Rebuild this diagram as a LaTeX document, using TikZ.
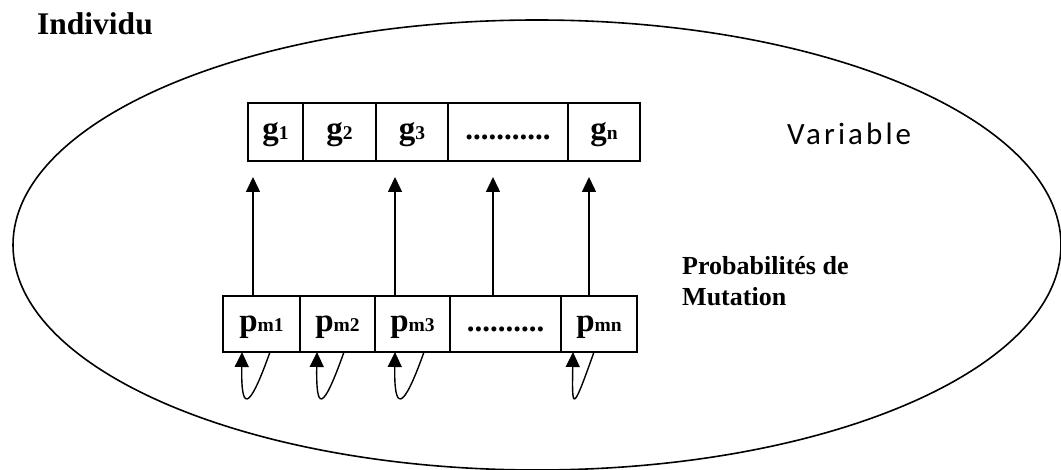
\documentclass[tikz,border=0pt]{standalone}
\usepackage{fontspec}
\setmainfont{Liberation Serif}
\newfontfamily\varfont{Carlito}[LetterSpace=10]
\usetikzlibrary{arrows.meta}
\newcommand\sbx[1]{{\fontsize{19.5}{22}\selectfont #1}}
\begin{document}
\begin{tikzpicture}[x=1pt,y=-1pt,
  cell/.style={draw, line width=1.6pt, inner sep=0pt, outer sep=0pt},
  gcell/.style={cell, minimum height=58pt},
  pcell/.style={cell, minimum height=56pt},
  lab/.style={anchor=base, inner sep=0pt, font=\bfseries\fontsize{33}{36}\selectfont},
  dotlab/.style={anchor=base, inner sep=0pt, font=\bfseries\fontsize{31}{36}\selectfont},
  up/.style={line width=1.4pt, -{Triangle[length=15pt,width=14pt]}},
  loopar/.style={line width=1.4pt, -{Triangle[length=15pt,width=14pt]}}]
\useasboundingbox (0,0) rectangle (1061,470);
% individual
\draw[line width=1.6pt] (537,245) ellipse [x radius=524, y radius=225];
\node[anchor=base west, inner sep=0pt, font=\bfseries\fontsize{31.5}{36}\selectfont] (ind) at (37,35) {Individu};
% gene row
\node[gcell, minimum width=55pt]  (g1) at (275.5,132) {};
\node[gcell, minimum width=73pt]  (g2) at (339.5,132) {};
\node[gcell, minimum width=72pt]  (g3) at (412,132) {};
\node[gcell, minimum width=120pt] (gd) at (508,132) {};
\node[gcell, minimum width=72pt]  (gn) at (604,132) {};
\coordinate (gb) at (0,140);
\node[lab] (tg1) at (g1 |- gb) {g\sbx{1}};
\node[lab] (tg2) at (g2 |- gb) {g\sbx{2}};
\node[lab] (tg3) at (g3 |- gb) {g\sbx{3}};
\node[dotlab] (tgd) at (gd |- gb) {...........};
\node[lab] (tgn) at (gn |- gb) {g\sbx{n}};
\node[anchor=base west, inner sep=0pt, font=\varfont\fontsize{31}{36}\selectfont] (var) at (787,145) {Variable};
% probability row
\node[pcell, minimum width=77pt]  (p1) at (261.5,324) {};
\node[pcell, minimum width=75pt]  (p2) at (337.5,324) {};
\node[pcell, minimum width=75pt]  (p3) at (412.5,324) {};
\node[pcell, minimum width=111pt] (pd) at (505.5,324) {};
\node[pcell, minimum width=76pt]  (pn) at (599,324) {};
\coordinate (pb) at (0,332);
\node[lab] (tp1) at (p1 |- pb) {p\sbx{m1}};
\node[lab] (tp2) at (p2 |- pb) {p\sbx{m2}};
\node[lab] (tp3) at (p3 |- pb) {p\sbx{m3}};
\node[dotlab] (tpd) at (pd |- pb) {..........};
\node[lab] (tpn) at (pn |- pb) {p\sbx{mn}};
\node[anchor=base west, inner sep=0pt, align=left, font=\bfseries\fontsize{26}{31}\selectfont] (prob) at (682,306) {Probabilités de\\Mutation};
% vertical arrows
\foreach \i/\x in {1/253,2/395,3/493,4/589}{
  \coordinate (s\i) at (\x,296);
  \coordinate (t\i) at (\x,177);
  \draw[up] (s\i) -- (t\i);
}
% self loops
\foreach \i/\a/\b in {1/270/242,2/344/317,3/424/395,4/594/573}{
  \coordinate (la\i) at (\a,352);
  \coordinate (lb\i) at (\b,352);
  \draw[loopar] (la\i) .. controls +(-22,62) and +(-1,58) .. (lb\i);
}
\end{tikzpicture}
\end{document}
